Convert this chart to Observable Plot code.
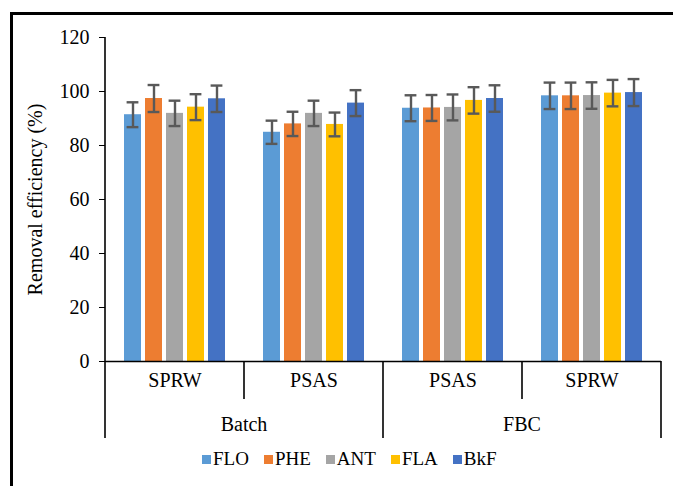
<!DOCTYPE html>
<html>
<head>
<meta charset="utf-8">
<script src="https://cdn.jsdelivr.net/npm/d3@7"></script>
<script src="https://cdn.jsdelivr.net/npm/@observablehq/plot@0.6"></script>
<style>
  html, body { margin: 0; padding: 0; background: #fff; }
  body { width: 673px; height: 486px; overflow: hidden; position: relative; font-family: "Liberation Serif"; }
  #border { position: absolute; left: 10px; top: 12px; width: 720px; height: 520px; border-top: 3px solid #000; border-left: 3px solid #000; box-sizing: border-box; }
  #chart { position: absolute; left: 0; top: 0; }
  #legend { position: absolute; left: 202px; top: 448px; }
  #chart svg, #chart svg text { font-family: "Liberation Serif" !important; }
  .lg-swatches, .lg-swatch { font-family: "Liberation Serif" !important; font-size: 19px !important; color: #000 !important; }
  .lg-swatches { margin: 0 !important; min-height: 0 !important; }
  .lg-swatch { margin-right: 15px !important; }
  .lg-swatch > svg { margin-right: 2px !important; }
</style>
</head>
<body>
<div id="border"></div>
<div id="chart"></div>
<div id="legend"></div>
<script>
// ---- data ----
const outerGroups = ["Batch", "Batch", "FBC", "FBC"];
const innerGroups = ["SPRW", "PSAS", "PSAS", "SPRW"];
const species = ["FLO", "PHE", "ANT", "FLA", "BkF"];
const colors = ["#5B9BD5", "#ED7D31", "#A5A5A5", "#FFC000", "#4472C4"];

const batchSPRW    = [91.4, 97.4, 91.9, 94.2, 97.3];
const batchSPRWErr = [4.6, 5.0, 4.7, 4.8, 4.9];
const batchPSAS    = [84.9, 88.0, 91.9, 87.8, 95.7];
const batchPSASErr = [4.3, 4.5, 4.7, 4.4, 4.8];
const fbcPSAS      = [93.8, 93.9, 94.1, 96.7, 97.4];
const fbcPSASErr   = [4.8, 4.8, 4.8, 4.9, 4.9];
const fbcSPRW      = [98.4, 98.4, 98.5, 99.4, 99.6];
const fbcSPRWErr   = [4.9, 4.9, 4.9, 4.9, 5.0];

const yTicks = [0, 20, 40, 60, 80, 100, 120];
const yLabel = "Removal efficiency (%)";

// ---- table built from the arrays ----
const seriesValues = [batchSPRW, batchPSAS, fbcPSAS, fbcSPRW];
const seriesErrors = [batchSPRWErr, batchPSASErr, fbcPSASErr, fbcSPRWErr];
const keys = outerGroups.map((o, i) => o + "|" + innerGroups[i]);
const rows = [];
keys.forEach((k, i) => species.forEach((s, j) => {
  const v = seriesValues[i][j], e = seriesErrors[i][j];
  rows.push({key: k, species: s, value: v, lo: v - e, hi: v + e});
}));
const cats = keys.map((k, i) => ({key: k, inner: innerGroups[i], outer: outerGroups[i]}));

const FONT = "Liberation Serif";

// category (two-level) axis drawn from the fx and y scales
function categoryAxis(index, scales) {
  const fx = scales.fx, y = scales.y;
  const bw = typeof fx.bandwidth === "function" ? fx.bandwidth() : fx.bandwidth;
  const y0 = y(0), yTop = y(d3.max(yTicks));
  const shortLen = 38, longLen = 77;
  const g = d3.create("svg:g");
  const lines = g.append("g").attr("stroke", "#000").attr("stroke-width", 1.6);
  keys.forEach((k, i) => {
    const x = fx(k);
    const outerStart = i === 0 || outerGroups[i] !== outerGroups[i - 1];
    lines.append("line").attr("x1", x).attr("x2", x)
      .attr("y1", i === 0 ? yTop : y0)
      .attr("y2", y0 + (outerStart ? longLen : shortLen));
  });
  const xr = fx(keys[keys.length - 1]) + bw;
  lines.append("line").attr("x1", xr).attr("x2", xr).attr("y1", y0).attr("y2", y0 + longLen);
  const labels = g.append("g").attr("font-family", FONT).attr("font-size", 20)
    .attr("text-anchor", "middle").attr("fill", "#000");
  for (const [name, members] of d3.groups(cats, d => d.outer)) {
    const x1 = fx(members[0].key), x2 = fx(members[members.length - 1].key) + bw;
    labels.append("text").attr("x", (x1 + x2) / 2).attr("y", y0 + 70).text(name);
  }
  return g.node();
}

const plot = Plot.plot({
  width: 673,
  height: 442,
  marginLeft: 103,
  marginRight: 11,
  marginTop: 37,
  marginBottom: 81,
  style: {fontFamily: FONT, fontSize: "20px", color: "#000", background: "transparent", overflow: "visible"},
  fx: {domain: keys, padding: 0, axis: null},
  x: {domain: species, paddingInner: 0.21, paddingOuter: 0.855, axis: null},
  y: {domain: [0, 120]},
  color: {domain: species, range: colors},
  marks: [
    Plot.barY(rows, {fx: "key", x: "species", y: "value", fill: "species"}),
    Plot.ruleX(rows, {fx: "key", x: "species", y1: "lo", y2: "hi", stroke: "#595959", strokeWidth: 2.4}),
    Plot.tickY(rows, {fx: "key", x: "species", y: "lo", stroke: "#595959", strokeWidth: 2.4, insetLeft: 2.6, insetRight: 2.6}),
    Plot.tickY(rows, {fx: "key", x: "species", y: "hi", stroke: "#595959", strokeWidth: 2.4, insetLeft: 2.6, insetRight: 2.6}),
    Plot.ruleY([0], {stroke: "#000", strokeWidth: 1.4}),
    Plot.axisY({ticks: yTicks, tickSize: 6, tickPadding: 10, fontSize: 20, fontFamily: FONT, stroke: "#000",
      label: yLabel, labelAnchor: "center", labelArrow: "none", labelOffset: 78}),
    Plot.text(cats, {fx: "key", text: "inner", frameAnchor: "bottom", dy: 25, fontSize: 20, fontFamily: FONT, fill: "#000"}),
    Plot.frame({facet: "super", stroke: "none", render: categoryAxis})
  ]
});
document.getElementById("chart").appendChild(plot);

const legend = Plot.legend({color: {domain: species, range: colors}, swatchSize: 9, className: "lg",
  style: {fontFamily: FONT, fontSize: "19px", color: "#000"}});
document.getElementById("legend").appendChild(legend);
</script>
</body>
</html>
